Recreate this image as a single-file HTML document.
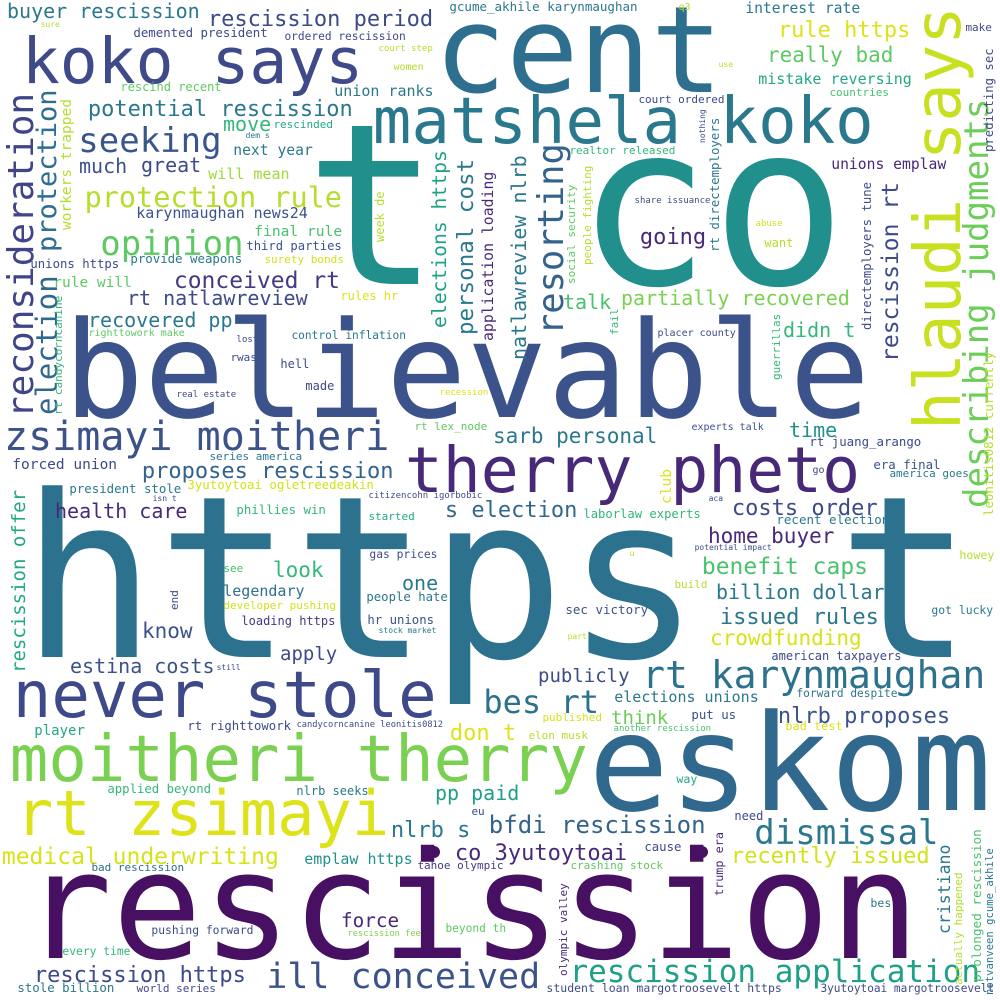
<!DOCTYPE html>
<html><head><meta charset="utf-8"><style>
html,body{margin:0;padding:0;background:#fff;}
svg{display:block;}
text{font-family:"DejaVu Sans Mono","Liberation Mono",monospace;}
</style></head><body>
<svg id="wc" width="1000" height="1000" viewBox="0 0 1000 1000" xmlns="http://www.w3.org/2000/svg">
<rect width="1000" height="1000" fill="#ffffff"/>
<circle cx="434" cy="852" r="6" fill="#471063"/>
<circle cx="702" cy="852" r="6" fill="#471063"/>
</svg>
<script>
// horizontal words: [word, inkLeftX, baselineY, fontSize, color]
const words = [
["t co",316,284,225,"#21908d"],
["cent",440,92,120,"#2e6e8e"],
["koko says",25,83,63,"#3e4a89"],
["matshela koko",376,143,64,"#2a788e"],
["believable",70,417,134,"#3b528b"],
["therry pheto",408,492,63,"#482878"],
["https t",32,657,226,"#2c728e"],
["zsimayi moitheri",6,450,40,"#3b528b"],
["never stole",16,717,64,"#3e4989"],
["moitheri therry",13,781,64,"#7ad151"],
["eskom",595,810,134,"#31688e"],
["rt zsimayi",19,835,62,"#dde318"],
["rescission",30,958,149,"#471063"],
["rt karynmaughan",644,688,38,"#2c728e"],
["ill conceived",268,988,35,"#3b528b"],
["rescission application",571,982,31,"#1fa187"],
["rescission https",35,982,22,"#3e4989"],
["dismissal",756,844,34,"#2a788e"],
["recently issued",732,863,22,"#d2e21b"],
["medical underwriting",3,864,23,"#d8e219"],
["bfdi rescission",490,833,24,"#33638d"],
["nlrb s",392,837,22,"#2a788e"],
["co 3yutoytoai",456,860,22,"#482878"],
["emplaw https",305,864,15,"#21918c"],
["pp paid",436,800,20,"#1f9e89"],
["don t",451,740,22,"#dde318"],
["bes rt",485,713,32,"#2c728e"],
["think",612,724,19,"#6ccd5a"],
["nlrb proposes",779,723,22,"#3b528b"],
["publicly",539,682,19,"#3e4a89"],
["elections unions",615,702,15,"#2a788e"],
["estina costs",71,673,20,"#3b528b"],
["apply",281,660,19,"#3e4a89"],
["know",143,638,21,"#3b528b"],
["one",403,590,20,"#2a788e"],
["look",274,577,21,"#35b779"],
["legendary",224,596,15,"#2e6e8e"],
["developer pushing",224,609,11,"#d2e21b"],
["loading https",242,625,12,"#443983"],
["health care",56,518,20,"#482878"],
["s election",446,517,22,"#31688e"],
["costs order",733,515,22,"#3e4a89"],
["home buyer",709,543,21,"#482878"],
["benefit caps",703,574,23,"#4ac16d"],
["billion dollar",717,599,20,"#2a788e"],
["issued rules",721,624,22,"#2a788e"],
["crowdfunding",711,645,21,"#d8e219"],
["american taxpayers",772,660,12,"#3e4a89"],
["time",790,437,20,"#21918c"],
["sarb personal",494,443,21,"#2a788e"],
["proposes rescission",143,478,22,"#33638d"],
["forced union",13,469,14.5,"#3e4a89"],
["series america",210,460,11,"#2a788e"],
["president stole",70,493,12.4,"#2a788e"],
["3yutoytoai ogletreedeakin",188,489,12.4,"#d2e21b"],
["phillies win",237,514,12.4,"#35b779"],
["recovered pp",89,327,20,"#2a788e"],
["rt natlawreview",128,305,20,"#3e4a89"],
["conceived rt",175,288,23,"#443983"],
["opinion",102,255,34,"#5ec962"],
["protection rule",86,207,28.5,"#b5de2b"],
["seeking",80,152,34,"#39568c"],
["potential rescission",89,116,22,"#2a788e"],
["much",80,173,20,"#3b528b"],
["great",142,172,20,"#3e4a89"],
["move",224,131,20,"#35b779"],
["rescinded",274,128,11,"#22a884"],
["next year",234,155,14.7,"#2a788e"],
["will mean",209,179,15,"#a0da39"],
["karynmaughan news24",137,218,15,"#3b528b"],
["final rule",255,236,14.6,"#4ac16d"],
["third parties",247,250,12.2,"#3b528b"],
["provide weapons",131,263,12.4,"#2a788e"],
["surety bonds",265,263,11,"#d2e21b"],
["unions https",31,268,12.3,"#3e4a89"],
["rule will",54,287,14.5,"#5ec962"],
["rules hr",341,300,12,"#dde318"],
["buyer rescission",8,18,20,"#2a788e"],
["rescission period",209,26,22,"#3e4a89"],
["demented president",134,37,12.4,"#3e4a89"],
["ordered rescission",285,40,11.2,"#3e4a89"],
["gcume_akhile karynmaughan",450,11,12.5,"#2a788e"],
["interest rate",746,13,14.7,"#2a788e"],
["rule https",779,37,22,"#dde318"],
["really bad",768,62,21,"#5ec962"],
["mistake reversing",759,84,15,"#22a884"],
["countries",830,96,11,"#4ac16d"],
["court ordered",639,103,11,"#3e4a89"],
["union ranks",335,96,15,"#2a788e"],
["rescind recent",121,91,12,"#5ec962"],
["realtor released",570,154,11,"#35b779"],
["unions emplaw",832,169,14.7,"#482878"],
["going",641,244,22,"#482878"],
["talk",564,309,20,"#4ac16d"],
["partially recovered",622,305,20,"#7ad151"],
["didn t",784,337,20,"#35b779"],
["placer county",658,336,10,"#3e4a89"],
["control inflation",292,339,11.2,"#2a788e"],
["experts talk",692,430,10,"#3b528b"],
["rt juang_arango",810,446,12.4,"#3e4a89"],
["rt lex_node",415,430,11,"#5ec962"],
["era final",874,469,12.4,"#3b528b"],
["america goes",890,477,11,"#2a788e"],
["recent election",777,524,12.5,"#2a788e"],
["laborlaw experts",584,518,12.2,"#35b779"],
["started",369,520,11,"#22a884"],
["gas prices",370,558,11.3,"#3e4a89"],
["people hate",367,601,12.3,"#2a788e"],
["hr unions",368,624,12.3,"#3b528b"],
["sec victory",566,614,12.5,"#3b528b"],
["got lucky",932,614,11.4,"#2a788e"],
["howey",960,559,11.6,"#b5de2b"],
["forward despite",797,697,11.2,"#2a788e"],
["bad test",786,730,11.9,"#dde318"],
["put us",692,719,12.4,"#3b528b"],
["elon musk",529,739,11,"#b5de2b"],
["published",543,721,11,"#d8e219"],
["player",35,735,14,"#22a884"],
["rt righttowork",188,730,12.3,"#3e4a89"],
["candycorncanine leonitis0812",297,727,8.7,"#3e4a89"],
["applied beyond",108,793,12.3,"#35b779"],
["nlrb seeks",297,795,12,"#2a788e"],
["bad rescission",92,871,11,"#2e6e8e"],
["tahoe olympic",418,869,11,"#443983"],
["crashing stock",571,869,11,"#5ec962"],
["cause",645,851,12.3,"#3e4a89"],
["need",735,820,12,"#3e4a89"],
["way",677,783,11.6,"#22a884"],
["force",342,927,19.3,"#482878"],
["pushing forward",152,934,11.3,"#3e4a89"],
["beyond th",446,932,11.2,"#5ec962"],
["rescission fee",348,936,8.7,"#7ad151"],
["every time",63,955,11.3,"#35b779"],
["stole billion",18,992,12.4,"#2a788e"],
["world series",137,992,11,"#3e4a89"],
["student loan margotroosevelt https",547,992,11.5,"#3e4a89"],
["3yutoytoai margotroosevelt",821,992,11.1,"#3e4a89"],
["bes",871,907,11.6,"#2a788e"],
["eu",472,815,11,"#3e4a89"],
["q3",679,10,10,"#b5de2b"],
["make",966,31,11,"#3e4a89"],
["women",394,70,10,"#b5de2b"],
["court step",379,51,9,"#b5de2b"],
["use",719,67,8,"#b5de2b"],
["sure",41,27,8,"#b5de2b"],
["abuse",756,226,9,"#d2e21b"],
["want",765,247,12,"#b5de2b"],
["share issuance",635,203,9,"#3e4a89"],
["lost",237,342,9,"#3e4a89"],
["rwas",231,361,11,"#3e4a89"],
["hell",281,368,12,"#3e4a89"],
["made",306,390,12,"#3e4a89"],
["real estate",177,397,9,"#3e4a89"],
["recession",440,395,9,"#dde318"],
["righttowork make",89,336,10,"#5ec962"],
["isn t",153,501,8,"#3e4a89"],
["citizencohn igorbobic",369,498,9,"#3e4a89"],
["aca",709,501,8,"#3e4a89"],
["potential impact",695,550,8,"#3e4a89"],
["go",813,473,10,"#3e4a89"],
["see",224,572,11,"#4ac16d"],
["build",675,588,11,"#b5de2b"],
["part",568,639,8,"#b5de2b"],
["stock market",379,633,8,"#2a788e"],
["still",217,670,8,"#3e4a89"],
["another rescission",614,731,9,"#4ac16d"],
["u",630,556,8,"#b5de2b"],
["dem s",246,138,8,"#2a788e"]
];
// vertical words (read bottom to top): [word, baselineX, bottomY, fontSize, color]
const vertical = [
["hlaudi says",960,430,64,"#c8e020"],
["describing judgments",988,508,34,"#6ccd5a"],
["reconsideration",33,418,36,"#414487"],
["protection",56,252,27,"#2e6e8e"],
["election",57,415,29,"#31688e"],
["workers trapped",71,230,14.5,"#b5de2b"],
["rescission offer",25,673,19,"#22a884"],
["rt candycorncanine",62,415,11,"#35b779"],
["end",178,610,11,"#3e4a89"],
["elections https",446,328,19.7,"#1fa187"],
["personal cost",473,335,22.5,"#2a788e"],
["application loading",493,341,14.8,"#482878"],
["natlawreview nlrb",526,360,20,"#2a788e"],
["resorting",563,335,35.4,"#33638d"],
["week de",384,242,12,"#b5de2b"],
["social security",575,284,11,"#5ec962"],
["people fighting",591,265,11,"#b5de2b"],
["fail",618,335,11,"#35b779"],
["club",671,504,14.5,"#dde318"],
["nothing",705,143,8,"#3e4a89"],
["rt directemployers",719,252,12.4,"#2a788e"],
["guerrillas",780,380,11,"#35b779"],
["directemployers tune",871,330,12.3,"#3e4a89"],
["rescission rt",898,362,23,"#3e4a89"],
["leonitis0812 currently",993,516,12.4,"#b5de2b"],
["predicting sec",993,152,12.3,"#3e4a89"],
["olympic valley",567,976,11,"#482878"],
["trump era",723,896,11.8,"#482878"],
["cristiano",950,934,16.5,"#2a788e"],
["actually happened",962,985,11,"#b5de2b"],
["prolonged rescission",981,982,12.7,"#4ac16d"],
["notvanveen gcume_akhile",993,995,10.6,"#2a788e"]
];
const svg = document.getElementById('wc');
const NS = 'http://www.w3.org/2000/svg';
function slug(s){ return 'word-' + s.replace(/[^a-z0-9]+/gi,'-').toLowerCase(); }
words.forEach(w => {
  const t = document.createElementNS(NS,'text');
  t.textContent = w[0];
  t.setAttribute('x', w[1] - 0.05*w[3]);
  t.setAttribute('y', w[2]);
  t.setAttribute('font-size', w[3]);
  t.setAttribute('fill', w[4]);
  
  
  svg.appendChild(t);
});
vertical.forEach(w => {
  const t = document.createElementNS(NS,'text');
  t.textContent = w[0];
  t.setAttribute('transform', 'translate(' + w[1] + ',' + w[2] + ') rotate(-90)');
  t.setAttribute('font-size', w[3]);
  t.setAttribute('fill', w[4]);
  
  
  svg.appendChild(t);
});
</script>
</body></html>
